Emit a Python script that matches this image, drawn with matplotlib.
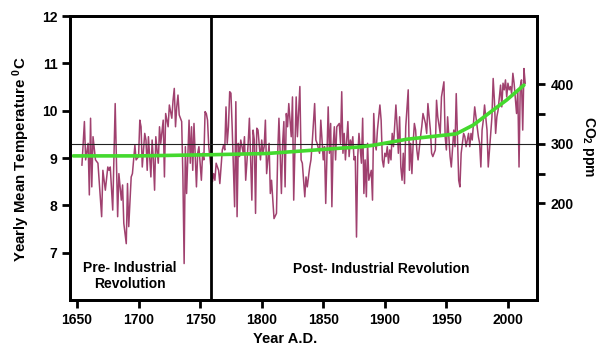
import matplotlib
matplotlib.use("Agg")
import matplotlib.pyplot as plt

plt.rcParams['font.family'] = 'Liberation Sans'
plt.rcParams['font.weight'] = 'bold'
plt.rcParams['font.size'] = 10
plt.rcParams['mathtext.fontset'] = 'custom'
plt.rcParams['mathtext.rm'] = 'Liberation Sans:bold'
plt.rcParams['mathtext.bf'] = 'Liberation Sans:bold'
plt.rcParams['mathtext.it'] = 'Liberation Sans:bold'

# yearly mean temperature in four stretches
yr1 = [1654, 1656, 1657, 1659, 1660, 1661, 1662, 1663, 1665, 1667,
       1670, 1671, 1673, 1675, 1676, 1677, 1679, 1681, 1683, 1684,
       1686, 1687, 1688, 1690, 1691, 1692, 1694, 1695, 1697, 1698,
       1700, 1701, 1702, 1703, 1705, 1706, 1707, 1708, 1710, 1711,
       1712, 1713, 1714, 1716, 1717, 1718, 1720, 1721, 1722, 1724,
       1725, 1727, 1728, 1729, 1730, 1731, 1732, 1733, 1735, 1736,
       1737, 1738, 1739, 1740]
t1 = [8.85, 9.77, 8.96, 9.31, 8.22, 9.84, 8.39, 9.45, 8.96, 8.89,
      7.76, 8.74, 8.32, 8.81, 8.74, 8.81, 7.90, 10.15, 7.76, 8.67,
      8.11, 8.43, 7.62, 7.19, 8.46, 7.55, 8.60, 8.67, 9.27, 8.96,
      9.03, 9.80, 9.66, 8.81, 9.52, 9.38, 8.74, 9.45, 8.60, 9.38,
      8.96, 8.32, 9.45, 8.89, 9.66, 9.31, 9.80, 8.60, 9.94, 9.66,
      10.12, 9.84, 10.22, 10.47, 9.66, 10.08, 10.33, 9.91, 9.77, 8.60,
      6.77, 9.24, 8.25, 9.03]

yr2 = [1741, 1742, 1743, 1744, 1745, 1747, 1748, 1749, 1751, 1752,
       1753, 1754, 1755, 1756, 1757, 1760, 1761, 1762, 1763, 1765,
       1766, 1768, 1769, 1770, 1771, 1772, 1773, 1774, 1775, 1776,
       1778, 1779, 1780, 1781, 1782, 1783, 1785, 1786, 1787, 1789,
       1790, 1791, 1792, 1793, 1794, 1795, 1796, 1797, 1799, 1800,
       1801, 1802, 1803, 1804, 1805, 1806, 1807, 1808, 1809, 1810,
       1812, 1813, 1814, 1815, 1816, 1817, 1818, 1819, 1820, 1821,
       1822, 1824, 1825, 1826]
t2 = [9.80, 8.89, 9.66, 8.74, 9.73, 8.39, 9.10, 9.24, 8.53, 9.10,
      8.96, 9.98, 9.94, 9.80, 9.24, 8.50, 8.67, 8.53, 8.89, 8.74,
      8.46, 9.17, 9.27, 9.17, 10.08, 9.31, 9.66, 10.40, 10.37, 9.66,
      7.97, 10.19, 7.76, 9.31, 9.03, 9.38, 9.10, 9.45, 8.53, 9.31,
      9.84, 8.96, 8.11, 9.59, 9.38, 7.83, 9.63, 9.59, 8.96, 9.38,
      9.10, 9.24, 9.80, 8.67, 8.96, 9.31, 8.25, 8.53, 8.11, 7.72,
      7.83, 9.10, 9.84, 9.10, 8.25, 9.31, 9.77, 8.39, 9.94, 9.66,
      10.15, 9.45, 10.29, 8.11]

yr3 = [1828, 1829, 1831, 1832, 1833, 1835, 1836, 1837, 1839, 1840,
       1841, 1843, 1844, 1845, 1847, 1848, 1850, 1851, 1852, 1854,
       1855, 1856, 1857, 1858, 1859, 1860, 1861, 1863, 1864, 1865,
       1866, 1867, 1868, 1870, 1871, 1872, 1873, 1874, 1875, 1876,
       1877, 1878, 1879, 1881, 1882, 1883, 1884, 1885, 1886, 1887,
       1889, 1890, 1891, 1892, 1893, 1894, 1896, 1897, 1898, 1899,
       1900, 1901, 1902, 1903, 1904, 1905, 1906, 1907, 1909, 1910,
       1911, 1912, 1913, 1914, 1915, 1916, 1917, 1919, 1920, 1921]
t3 = [10.29, 9.45, 10.51, 8.96, 8.89, 8.18, 8.60, 8.39, 8.81, 8.96,
      9.31, 10.15, 9.38, 9.31, 9.10, 9.80, 8.96, 9.24, 8.04, 10.08,
      9.10, 9.73, 7.97, 9.24, 9.66, 8.96, 9.66, 9.73, 9.31, 10.40,
      9.10, 9.52, 8.96, 9.77, 9.03, 9.38, 9.24, 9.45, 8.96, 9.03,
      7.33, 9.03, 9.52, 8.89, 9.84, 8.25, 8.96, 8.18, 9.31, 8.53,
      8.74, 8.11, 9.94, 9.31, 9.17, 9.59, 10.12, 9.80, 8.96, 8.81,
      9.10, 9.03, 9.24, 8.89, 9.17, 8.96, 9.52, 9.24, 10.12, 9.66,
      9.10, 9.87, 8.81, 8.53, 9.10, 8.46, 9.66, 10.44, 8.74, 9.31]

yr4 = [1922, 1923, 1924, 1925, 1926, 1927, 1929, 1930, 1931, 1933,
       1934, 1935, 1937, 1938, 1939, 1941, 1942, 1943, 1945, 1946,
       1948, 1949, 1950, 1951, 1952, 1953, 1954, 1956, 1957, 1958,
       1959, 1960, 1961, 1962, 1963, 1964, 1965, 1966, 1968, 1969,
       1970, 1971, 1972, 1973, 1975, 1976, 1977, 1978, 1979, 1980,
       1981, 1983, 1984, 1985, 1987, 1988, 1989, 1990, 1991, 1992,
       1994, 1995, 1996, 1997, 1998, 1999, 2000, 2001, 2002, 2003,
       2004, 2005, 2007, 2008, 2009, 2010, 2011, 2012, 2013, 2014]
t4 = [8.67, 9.31, 9.73, 9.59, 9.17, 8.96, 9.45, 9.66, 9.94, 9.73,
      9.52, 10.15, 9.59, 9.10, 9.03, 9.17, 10.22, 9.87, 9.52, 10.29,
      10.61, 9.45, 9.17, 9.87, 9.45, 9.03, 8.81, 9.59, 9.24, 10.36,
      9.45, 8.53, 8.39, 9.10, 9.31, 9.52, 9.45, 9.24, 9.52, 9.24,
      9.52, 9.38, 9.73, 10.08, 9.66, 9.45, 9.31, 8.81, 9.59, 9.80,
      10.12, 9.59, 8.81, 9.17, 9.87, 10.68, 10.22, 9.52, 9.87, 10.01,
      10.54, 10.08, 10.58, 10.44, 10.65, 10.29, 10.58, 10.44, 10.51, 10.36,
      10.79, 10.58, 9.94, 10.44, 8.81, 10.51, 10.65, 9.59, 10.89, 10.58]

year = yr1 + yr2 + yr3 + yr4
temp = t1 + t2 + t3 + t4

# CO2 curve (right axis)
co2_year = [1647, 1700, 1760, 1804, 1831, 1864, 1880, 1891, 1918, 1958,
            1972, 1986, 1999, 2013]
co2_ppm = [280, 280, 282, 284, 288, 293, 295, 298, 308, 317,
           332, 354, 374, 399]

fig = plt.figure(figsize=(6, 3.47), dpi=100)
ax = fig.add_axes([70/600, 1 - 300/347, 467/600, 284/347])

ax.plot(year, temp, color='#a0416f', lw=1.1)
ax.axvline(1758.6, color='black', lw=2)
ax.set_xlim(1644.3, 2023.6)
ax.set_ylim(6, 12)
ax.set_xticks(range(1650, 2001, 50))
ax.set_yticks(range(7, 13))
ax.tick_params(direction='out', length=6, width=2, pad=3)

ax2 = ax.twinx()
ax2.axhline(300, color='#222222', lw=0.8)
ax2.plot(co2_year, co2_ppm, color='#44d92e', lw=2.6, solid_capstyle='round')
ax2.set_ylim(37.8, 515.1)
ax2.set_yticks([200, 300, 400])
ax2.set_yticks([250, 350], minor=True)
ax2.tick_params(which='both', direction='out', length=6, width=2, pad=4)

for a in (ax, ax2):
    for s in a.spines.values():
        s.set_linewidth(2)

fig.text(21/600, 1 - 159/347, r'Yearly Mean Temperature $^{0}$C',
         rotation=90, ha='center', va='center', fontsize=10.8)
fig.text(589/600, 1 - 147/347, r'$\mathrm{CO_2}$ ppm',
         rotation=270, ha='center', va='center')
fig.text(285.5/600, 1 - 339/347, 'Year A.D.', ha='center', va='center',
         fontsize=10.5)
fig.text(130/600, 1 - 276/347, 'Pre- Industrial\nRevolution',
         ha='center', va='center', linespacing=1.2)
fig.text(381.5/600, 1 - 269/347, 'Post- Industrial Revolution',
         ha='center', va='center')

fig.savefig('out.png', dpi=100)
